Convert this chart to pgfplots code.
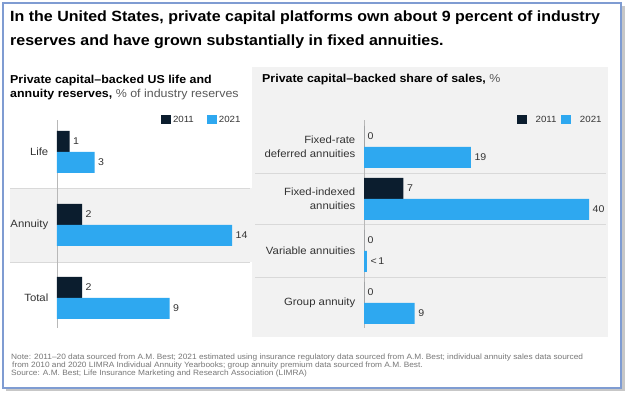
\documentclass[border=0pt]{standalone}
\usepackage{pgfplots}
\pgfplotsset{compat=1.18}
\usepackage{fontspec}
\setmainfont{Liberation Sans}[FakeStretch=1.08]
\definecolor{navy}{HTML}{0B1D2E}
\definecolor{sky}{HTML}{2EA8F0}
\definecolor{panel}{HTML}{F2F2F2}
\definecolor{sepc}{HTML}{D9D9D9}
\definecolor{framec}{HTML}{7F9CD2}
\definecolor{txt}{HTML}{333333}
\definecolor{notec}{HTML}{777777}
\begin{document}
\begin{tikzpicture}[x=1pt,y=1pt]
\path[use as bounding box] (0,0) rectangle (629,398);
% shadow and frame
\fill[black!22] (6,7) rectangle (624.5,392);
\filldraw[fill=white, draw=framec, line width=1.2pt] (3,10) rectangle (621,395);
% panels
\fill[panel] (252,61) rectangle (608,331);
\fill[panel] (10,136) rectangle (252,210);
\draw[sepc, line width=0.8pt] (10,210) -- (250,210);
\draw[sepc, line width=0.8pt] (10,136) -- (250,136);
\draw[sepc, line width=0.8pt] (255,225) -- (606,225);
\draw[sepc, line width=0.8pt] (255,174) -- (606,174);
\draw[sepc, line width=0.8pt] (255,121) -- (606,121);
% title
\node[anchor=base west, inner sep=0pt, font=\fontsize{14.8}{17}\selectfont\bfseries] at (10,376) {In the United States, private capital platforms own about 9 percent of industry};
\node[anchor=base west, inner sep=0pt, font=\fontsize{14.8}{17}\selectfont\bfseries] at (10,352.5) {reserves and have grown substantially in fixed annuities.};
% subtitles
\node[anchor=base west, inner sep=0pt, font=\fontsize{11.5}{14}\selectfont] at (10,314.7) {\textbf{Private capital–backed US life and}};
\node[anchor=base west, inner sep=0pt, font=\fontsize{11.5}{14}\selectfont] at (10,300.7) {\textbf{annuity reserves,} \textcolor{black!65}{\% of industry reserves}};
\node[anchor=base west, inner sep=0pt, font=\fontsize{11.5}{14}\selectfont] at (262,315) {\textbf{Private capital–backed share of sales,} \textcolor{black!65}{\%}};
% footnote
\node[anchor=base west, inner sep=0pt, font=\fontsize{7.7}{8}\selectfont, text=notec] at (11,38) {Note: 2011–20 data sourced from A.M. Best; 2021 estimated using insurance regulatory data sourced from A.M. Best; individual annuity sales data sourced};
\node[anchor=base west, inner sep=0pt, font=\fontsize{7.7}{8}\selectfont, text=notec] at (12,30.3) {from 2010 and 2020 LIMRA Individual Annuity Yearbooks; group annuity premium data sourced from A.M. Best.};
\node[anchor=base west, inner sep=0pt, font=\fontsize{7.7}{8}\selectfont, text=notec] at (11,22.6) {Source: A.M. Best; Life Insurance Marketing and Research Association (LIMRA)};

\pgfplotsset{
  mybars/.style={
    scale only axis, anchor=south west, clip=false,
    axis line style={draw=none},
    xtick=\empty,
    extra x ticks={0}, extra x tick labels={},
    extra x tick style={grid=major, major grid style={draw=black!28, line width=0.8pt}},
    major tick length=0pt,
    yticklabel style={font=\fontsize{10.5}{14}\selectfont, text=txt, inner sep=0pt, xshift=-8.5pt, align=right},
    xbar, bar width=21pt,
    nodes near coords, point meta=explicit symbolic,
    nodes near coords style={font=\fontsize{9.8}{12}\selectfont, text=txt, inner sep=0pt, anchor=west, xshift=3.5pt},
    legend columns=2,
    legend image code/.code={\fill[##1] (0pt,-4.5pt) rectangle (10pt,4.5pt);},
  }
}
% left panel
\begin{scope}[shift={(57,70)}]
\begin{axis}[mybars,
  width=200pt, height=208pt,
  xmin=0, xmax=16, ymin=-0.411, ymax=2.438,
  ytick={0,1,2}, yticklabels={Total,Annuity,Life},
  legend style={draw=none, fill=none, inner sep=0pt, outer sep=0pt,
    at={(0.52,1.0)}, anchor=west, font=\fontsize{9}{11}\selectfont,
    nodes={inner sep=0pt, text=txt},
    /tikz/every odd column/.append style={column sep=2pt},
    /tikz/every even column/.append style={column sep=13pt}},
]
\addplot[fill=navy, draw=none, bar shift=10.5pt] coordinates {(1,2)[1] (2,1)[2] (2,0)[2]};
\addplot[fill=sky, draw=none, bar shift=-10.5pt] coordinates {(3,2)[3] (14,1)[14] (9,0)[9]};
\legend{2011,2021}
\end{axis}
\end{scope}
% right panel
\begin{scope}[shift={(364,70)}]
\begin{axis}[mybars,
  width=243pt, height=208pt,
  xmin=0, xmax=43.2, ymin=-0.481, ymax=3.519,
  ytick={0,1,2,3}, yticklabels={Group annuity,Variable annuities,{Fixed-indexed\\annuities},{Fixed-rate\\deferred annuities}},
  legend style={draw=none, fill=none, inner sep=0pt, outer sep=0pt,
    at={(0.63,1.0)}, anchor=west, font=\fontsize{9}{11}\selectfont,
    nodes={inner sep=0pt, text=txt},
    /tikz/every odd column/.append style={column sep=8.5pt},
    /tikz/every even column/.append style={column sep=5pt}},
]
\addplot[fill=navy, draw=none, bar shift=10.5pt] coordinates {(0,3)[0] (7,2)[7] (0,1)[0] (0,0)[0]};
\addplot[fill=sky, draw=none, bar shift=-10.5pt] coordinates {(19,3)[19] (40,2)[40] (0.5,1)[{<\,1}] (9,0)[9]};
\legend{2011,2021}
\end{axis}
\end{scope}
\end{tikzpicture}
\end{document}
